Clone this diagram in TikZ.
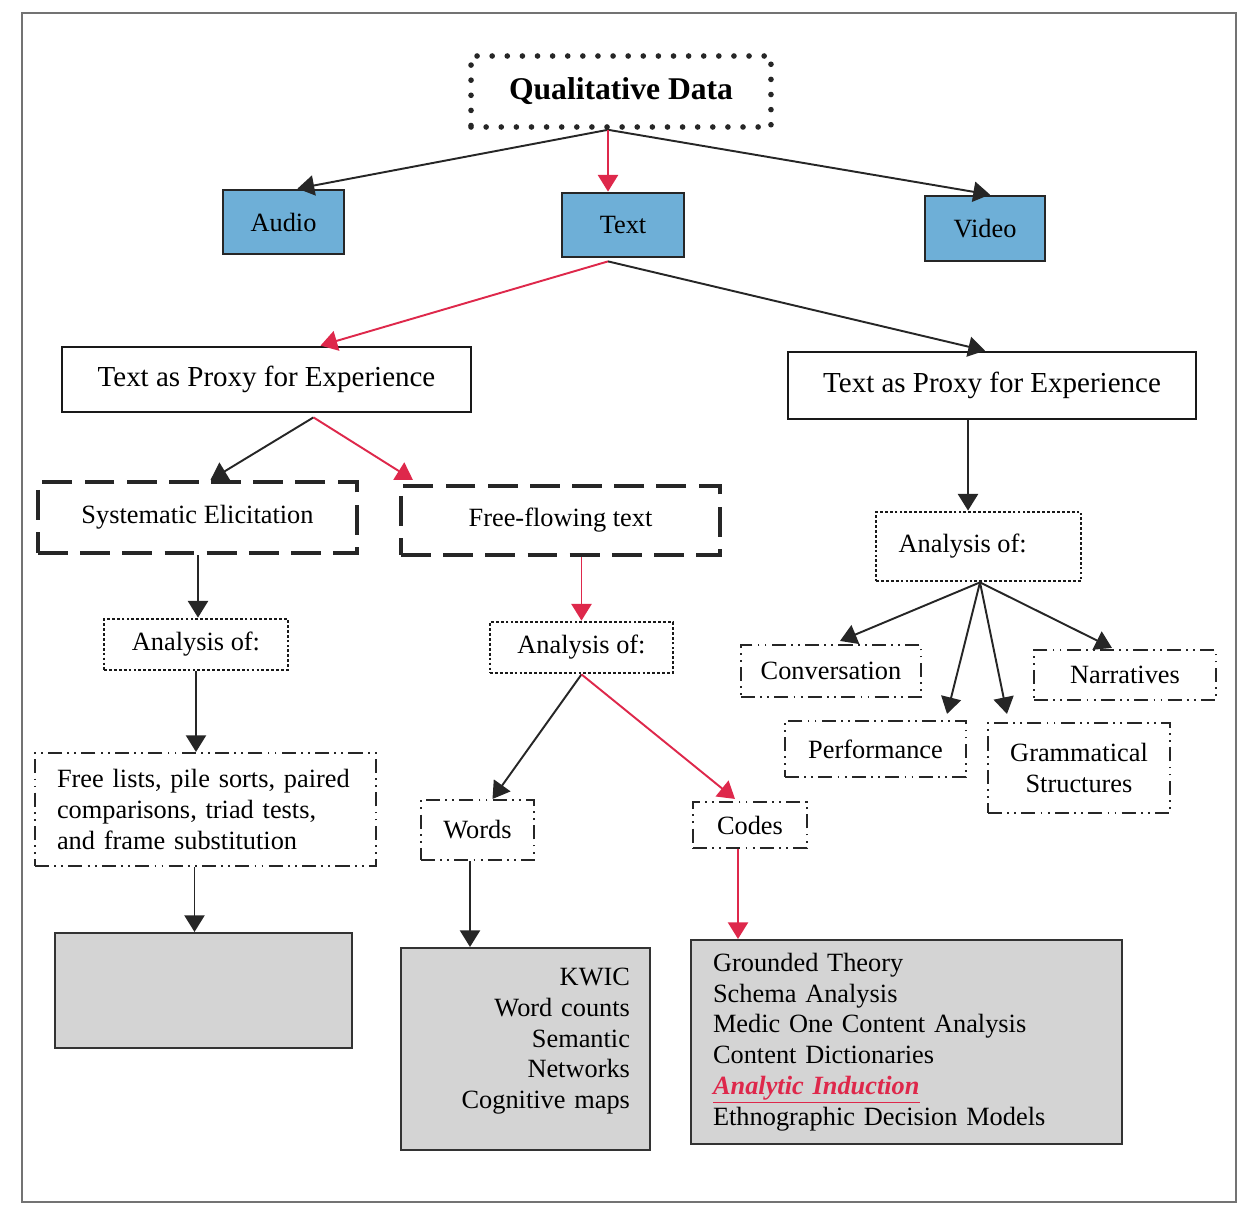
\documentclass[tikz,border=0pt]{standalone}
\usepackage{fontspec}
\setmainfont{Liberation Serif}
\usetikzlibrary{arrows.meta,calc}
\definecolor{boxblue}{RGB}{110,175,215}
\definecolor{boxgrey}{RGB}{212,212,212}
\definecolor{crimson}{RGB}{222,40,75}

\begin{document}
\begin{tikzpicture}
  [x=0.02cm, y=-0.02cm,
    every node/.style={font=\fontsize{15}{17.5}\selectfont, inner sep=2pt},
    qdbox/.style={draw=black!85, line width=3.2pt, dash pattern=on 0pt off 8.6pt, line cap=round},
    mediabox/.style={draw=black!85, fill=boxblue, line width=1.6pt},
    proxybox/.style={draw=black!90, line width=1.6pt, font=\fontsize{16.5}{20}\selectfont},
    kindbox/.style={draw=black!85, line width=2.4pt, dash pattern=on 17pt off 7pt},
    anbox/.style={draw=black!90, line width=1.6pt, dash pattern=on 1.6pt off 1.2pt},
    itembox/.style={draw=black!85, line width=1.2pt, dash pattern=on 8pt off 3pt on 1pt off 3pt on 1pt off 3pt},
    resultbox/.style={draw=black!80, fill=boxgrey, line width=1.2pt},
    arr/.style={draw=black!85, line width=1.1pt, -{Triangle[length=9.5pt,width=11.5pt]}},
    redarr/.style={draw=crimson, line width=1.1pt, -{Triangle[length=9.5pt,width=11.5pt]}},
]
\useasboundingbox (0,0) rectangle (1244,1209);
\draw[black!55, line width=0.6pt] (22,13) rectangle (1236,1202);

\node[qdbox, minimum width=6cm, minimum height=1.42cm,
  font=\fontsize{18}{22}\selectfont\bfseries] (qd) at (621,91.5) {Qualitative Data};

\node[mediabox, minimum width=2.42cm, minimum height=1.28cm] (audio) at (283.5,222) {Audio};
\node[mediabox, minimum width=2.44cm, minimum height=1.28cm] (text) at (623,225) {Text};
\node[mediabox, minimum width=2.4cm, minimum height=1.3cm] (video) at (985,228.5) {Video};

\node[proxybox, minimum width=8.18cm, minimum height=1.3cm] (proxyl) at (266.5,379.5) {Text as Proxy for Experience};
\node[proxybox, minimum width=8.16cm, minimum height=1.34cm] (proxyr) at (992,385.5) {Text as Proxy for Experience};

\node[kindbox, minimum width=6.38cm, minimum height=1.42cm] (syst) at (197.5,517.5) {Systematic Elicitation};
\node[kindbox, minimum width=6.38cm, minimum height=1.38cm] (free) at (560.5,520.5) {Free-flowing text};

\node[anbox, minimum width=3.68cm, minimum height=1.02cm] (anl) at (196,644.5) {Analysis of:};
\node[anbox, minimum width=3.66cm, minimum height=1.02cm] (anm) at (581.5,647.5) {Analysis of:};
\node[anbox, minimum width=4.1cm, minimum height=1.38cm] (anr) at (978.5,546.5) {Analysis of:\kern18pt};

\node[itembox, minimum width=6.82cm, minimum height=2.26cm, text width=5.94cm, align=left] (lists) at (205.5,809.5)
  {Free lists, pile sorts, paired\\comparisons, triad tests,\\and frame substitution};
\node[itembox, minimum width=2.26cm, minimum height=1.2cm] (words) at (477.5,830) {Words};
\node[itembox, minimum width=2.28cm, minimum height=0.92cm] (codes) at (750,825) {Codes};

\node[itembox, minimum width=3.6cm, minimum height=1.04cm] (conv) at (831,671) {Conversation};
\node[itembox, minimum width=3.64cm, minimum height=1cm] (narr) at (1125,675) {Narratives};
\node[itembox, minimum width=3.62cm, minimum height=1.12cm] (perf) at (875.5,749) {Performance};
\node[itembox, minimum width=3.64cm, minimum height=1.8cm, align=center] (gram) at (1079,768) {Grammatical\\Structures};

\node[resultbox, minimum width=5.94cm, minimum height=2.3cm] (grey) at (203.5,990.5) {};
\node[resultbox, minimum width=4.98cm, minimum height=4.04cm, text width=4.18cm, align=right,
  inner xsep=0.4cm] (kwic) at (525.5,1049)
  {KWIC\\Word counts\\Semantic\\Networks\\Cognitive maps\\[-5.5pt]\mbox{}};
\node[resultbox, minimum width=8.62cm, minimum height=4.08cm, text width=7.74cm, align=left,
  inner xsep=0.44cm] (ground) at (906.5,1042)
  {Grounded Theory\\Schema Analysis\\Medic One Content Analysis\\Content Dictionaries\\
   {\color{crimson}\underline{\bfseries\itshape Analytic Induction}}\\Ethnographic Decision Models};

\draw[arr] ($(qd.south)+(-13,0)$) -- ($(audio.north)+(14,0)$);
\draw[arr] ($(qd.south)+(-13,0)$) -- ($(video.north)+(5,0)$);
\draw[redarr] ($(qd.south)+(-13,0)$) -- ($(text.north)+(-15,0)$);

\draw[redarr] ($(text.south)+(-15,3)$) -- ($(proxyl.north)+(54,0)$);
\draw[arr] ($(text.south)+(-15,3)$) -- ($(proxyr.north)+(-7,0)$);

\draw[arr] ($(proxyl.south)+(47,4)$) -- ($(syst.north)+(13,0)$);
\draw[redarr] ($(proxyl.south)+(47,4)$) -- ($(free.north west)+(14,-4)$);
\draw[arr] ($(proxyr.south)+(-24,0)$) -- ($(anr.north)+(-10.5,0)$);

\draw[arr] ($(syst.south)+(0.5,0)$) -- ($(anl.north)+(2,0)$);
\draw[redarr] ($(free.south)+(21,0)$) -- (anm.north);

\draw[arr] (anl.south) -- ($(lists.north)+(-9.5,0)$);
\draw[arr] (anm.south) -- ($(words.north)+(15,0)$);
\draw[redarr] (anm.south) -- ($(codes.north)+(-15,-2)$);

\draw[arr] ($(lists.south)+(-11,0)$) -- ($(grey.north)+(-9,0)$);
\draw[arr] ($(words.south)+(-7.5,0)$) -- ($(kwic.north)+(-55.5,0)$);
\draw[redarr] ($(codes.south)+(-12,0)$) -- ($(ground.north)+(-168.5,0)$);

\draw[arr] ($(anr.south)+(1.5,0)$) -- ($(conv.north)+(9,-3)$);
\draw[arr] ($(anr.south)+(1.5,0)$) -- ($(perf.north east)+(-20,-6)$);
\draw[arr] ($(anr.south)+(1.5,0)$) -- ($(gram.north west)+(20,-8)$);
\draw[arr] ($(anr.south)+(1.5,0)$) -- ($(narr.north)+(-13,-1)$);
\end{tikzpicture}
\end{document}
